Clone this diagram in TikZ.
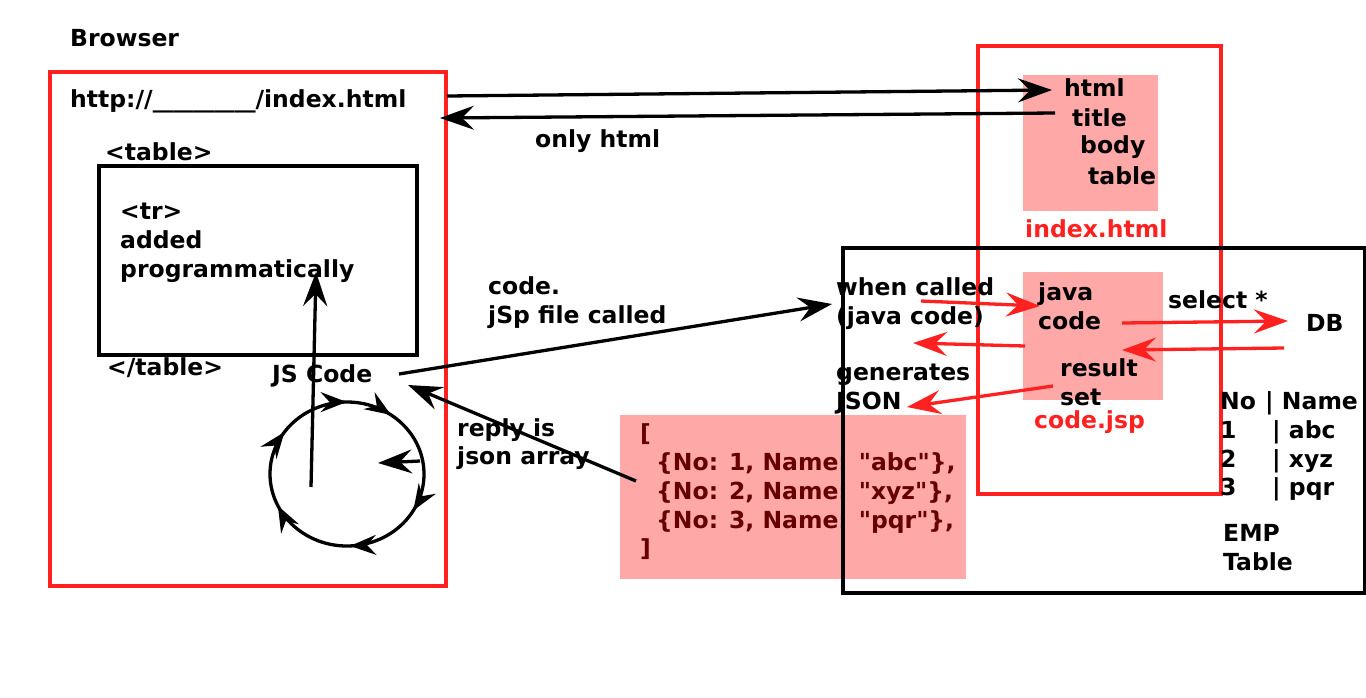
\documentclass[tikz,border=0pt]{standalone}
\usepackage{fontspec}
\setmainfont{DejaVu Sans}
\usetikzlibrary{arrows.meta,decorations.markings}
\definecolor{lred}{HTML}{FF2020}
\definecolor{pinkfill}{HTML}{FFA8A8}
\definecolor{jsonred}{HTML}{660000}
\begin{document}
\begin{tikzpicture}[x=1pt,y=-1pt,
  lbl/.style={anchor=west,inner sep=0pt,align=left,font=\bfseries\fontsize{23.5}{28.8}\selectfont},
  redlbl/.style={lbl,text=lred},
  jsonlbl/.style={lbl,text=jsonred},
  frame/.style={line width=3.3pt},
  pinkbox/.style={fill=pinkfill,draw=none},
  arr/.style={line width=3.3pt,-{Stealth[length=34pt,width=24pt,inset=12pt]}},
  rarr/.style={arr,draw=lred},
  looptip/.style={decoration={markings,
    mark=at position 0.028 with {\arrow{Stealth[length=26pt,width=20pt,inset=9pt]}},
    mark=at position 0.128 with {\arrow{Stealth[length=26pt,width=20pt,inset=9pt]}},
    mark=at position 0.361 with {\arrow{Stealth[length=26pt,width=20pt,inset=9pt]}},
    mark=at position 0.522 with {\arrow{Stealth[length=26pt,width=20pt,inset=9pt]}},
    mark=at position 0.708 with {\arrow{Stealth[length=26pt,width=20pt,inset=9pt]}},
    mark=at position 0.875 with {\arrow{Stealth[length=26pt,width=20pt,inset=9pt]}}},
    postaction=decorate}
]
\useasboundingbox (0,0) rectangle (1366,697);
\fill[white] (0,0) rectangle (1366,697);

% pink boxes
\fill[pinkbox] (620,415) rectangle (966,579);
\fill[pinkbox] (1023,75) rectangle (1158,211);
\fill[pinkbox] (1023,272) rectangle (1163,400);

% browser side
\node[lbl] (browser) at (70,38) {Browser};
\draw[frame,draw=lred] (50,72) rectangle (446,586);
\node[lbl] (url) at (70,101) {http://\scalebox{1.75}[1]{\_\_\_\_\_}/index.html};
\node[lbl] (tabopen) at (105,152) {<table>};
\draw[frame] (99,166) rectangle (417,355);
\node[lbl] (tr) at (120,243) {<tr>\\added\\programmatically};
\node[lbl] (tabclose) at (107,368) {</table>};
\node[lbl] (js) at (272,376) {JS Code};
\node[lbl] (call) at (488,303) {code.\\jSp file called};
\node[lbl] (reply) at (457,444) {reply is\\json array};
\node[lbl] (only) at (535,141) {only html};

% loop
\coordinate (lc) at (347,474);
\draw[line width=3.3pt,looptip] (lc) ++(-100:77 and 72) arc[start angle=-100,end angle=260,x radius=77,y radius=72];

% index.html
\draw[frame,draw=lred] (978,46) rectangle (1221,494);
\node[lbl] (html) at (1064,88) {html};
\node[lbl] (title) at (1072,118) {title};
\node[lbl] (body) at (1080,147) {body};
\node[lbl] (tbl) at (1088,176) {table};
\node[redlbl] (indexname) at (1025,229) {index.html};

% json
\node[jsonlbl] (json) at (640,492) {[\\\hspace*{16pt}\{No: 1, Name: \textquotedbl abc\textquotedbl\},\\\hspace*{16pt}\{No: 2, Name: \textquotedbl xyz\textquotedbl\},\\\hspace*{16pt}\{No: 3, Name: \textquotedbl pqr\textquotedbl\},\\]};

% server
\draw[frame] (843,248) rectangle (1365,593);
\node[lbl] (when) at (836,304) {when called\\(java code)};
\node[lbl] (java) at (1038,306) {java\\code};
\node[lbl] (result) at (1060,382) {result\\set};
\node[redlbl] (codejsp) at (1034,422) {code.jsp};
\node[lbl] (gen) at (836,389) {generates\\JSON};
\node[lbl] (select) at (1168,300) {select *};
\node[lbl] (db) at (1306,323) {DB};
\node[lbl] (rows) at (1220,446.5) {\makebox[45pt][l]{No}| Name\\\makebox[52pt][l]{1}| abc\\\makebox[52pt][l]{2}| xyz\\\makebox[52pt][l]{3}| pqr};
\node[lbl] (emp) at (1223,547.5) {EMP\\Table};

% connector end points
\coordinate (u1) at (447,96);   \coordinate (h1) at (1052,90);
\coordinate (h2) at (1055,113); \coordinate (u2) at (440,118);
\coordinate (j1) at (399,374);  \coordinate (w1) at (832,304);
\coordinate (s1) at (636,481);  \coordinate (j2) at (408,385);
\coordinate (p1) at (420,461);  \coordinate (p2) at (378,463);
\coordinate (c1) at (311,487);  \coordinate (c2) at (316,272);
\coordinate (r1a) at (921,301); \coordinate (r1b) at (1040,306);
\coordinate (r2a) at (1122,323); \coordinate (r2b) at (1288,321);
\coordinate (r3a) at (1284,348); \coordinate (r3b) at (1122,350);
\coordinate (r4a) at (1025,346); \coordinate (r4b) at (913,343);
\coordinate (r5a) at (1053,386); \coordinate (r5b) at (907,407);

\draw[arr] (u1) -- (h1);
\draw[arr] (h2) -- (u2);
\draw[arr] (j1) -- (w1);
\draw[arr] (s1) -- (j2);
\draw[arr] (p1) -- (p2);
\draw[arr] (c1) -- (c2);
\draw[rarr] (r1a) -- (r1b);
\draw[rarr] (r2a) -- (r2b);
\draw[rarr] (r3a) -- (r3b);
\draw[rarr] (r4a) -- (r4b);
\draw[rarr] (r5a) -- (r5b);
\end{tikzpicture}
\end{document}
